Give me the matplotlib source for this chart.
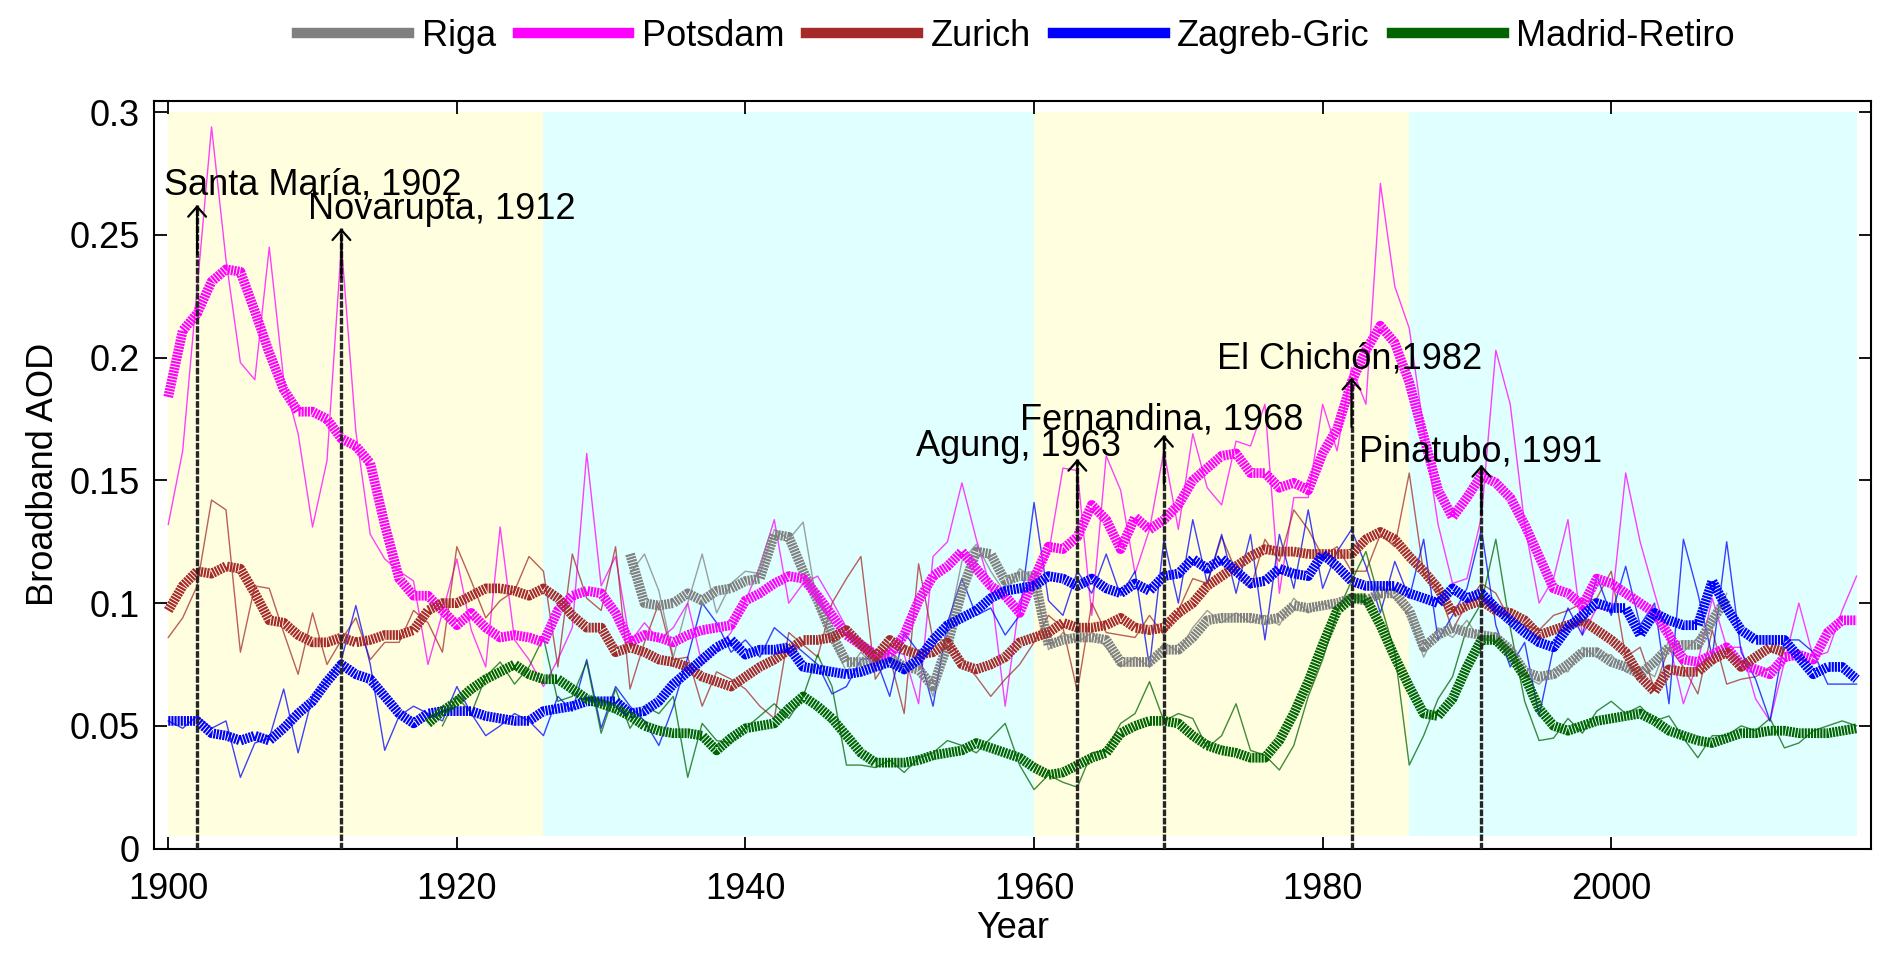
import numpy as np
import matplotlib.pyplot as plt

plt.rcParams['font.family'] = ['Liberation Sans', 'DejaVu Sans']

# -----------------------------
# DATA
# -----------------------------

potsdam_start = 1900
potsdam_annual = [
    0.132, 0.162, 0.228, 0.294, 0.240, 0.198, 0.191, 0.245, 0.191, 0.169,
    0.131, 0.158, 0.246, 0.170, 0.128, 0.118, 0.113, 0.109, 0.075, 0.096,
    0.118, 0.089, 0.074, 0.131, 0.085, 0.077, 0.066, 0.077, 0.090, 0.161,
    0.107, 0.119, 0.084, 0.092, 0.085, 0.090, 0.100, 0.075, 0.081, 0.088,
    0.101, 0.115, 0.134, 0.100, 0.108, 0.111, 0.101, 0.090, 0.082, 0.074,
    0.081, 0.079, 0.059, 0.119, 0.125, 0.149, 0.126, 0.106, 0.058, 0.101,
    0.110, 0.120, 0.155, 0.154, 0.095, 0.160, 0.146, 0.112, 0.130, 0.162,
    0.130, 0.169, 0.147, 0.140, 0.166, 0.164, 0.181, 0.104, 0.143, 0.143,
    0.181, 0.162, 0.196, 0.181, 0.271, 0.229, 0.212, 0.171, 0.132, 0.108,
    0.110, 0.135, 0.203, 0.181, 0.132, 0.100, 0.110, 0.134, 0.087, 0.098,
    0.097, 0.153, 0.125, 0.104, 0.084, 0.059, 0.076, 0.102, 0.082, 0.082,
    0.061, 0.052, 0.076, 0.100, 0.078, 0.080, 0.097, 0.111]
potsdam_smooth = [
    0.184, 0.211, 0.218, 0.231, 0.236, 0.235, 0.219, 0.202, 0.187, 0.178,
    0.178, 0.175, 0.167, 0.164, 0.157, 0.132, 0.110, 0.103, 0.103, 0.097,
    0.091, 0.096, 0.090, 0.086, 0.087, 0.086, 0.084, 0.097, 0.103, 0.105,
    0.104, 0.096, 0.084, 0.087, 0.086, 0.084, 0.087, 0.089, 0.090, 0.091,
    0.101, 0.104, 0.108, 0.111, 0.110, 0.103, 0.095, 0.087, 0.083, 0.079,
    0.079, 0.087, 0.101, 0.111, 0.115, 0.121, 0.114, 0.107, 0.103, 0.096,
    0.110, 0.123, 0.122, 0.127, 0.140, 0.134, 0.122, 0.135, 0.130, 0.134,
    0.140, 0.150, 0.155, 0.160, 0.161, 0.153, 0.153, 0.147, 0.149, 0.146,
    0.161, 0.171, 0.190, 0.203, 0.213, 0.206, 0.190, 0.168, 0.146, 0.135,
    0.143, 0.152, 0.149, 0.143, 0.132, 0.119, 0.106, 0.104, 0.099, 0.110,
    0.108, 0.104, 0.100, 0.096, 0.087, 0.077, 0.076, 0.079, 0.082, 0.075,
    0.073, 0.071, 0.078, 0.079, 0.077, 0.088, 0.093, 0.093]

zurich_start = 1900
zurich_annual = [
    0.086, 0.094, 0.107, 0.142, 0.138, 0.080, 0.107, 0.106, 0.088, 0.071,
    0.096, 0.075, 0.085, 0.094, 0.077, 0.084, 0.084, 0.097, 0.092, 0.080,
    0.123, 0.109, 0.094, 0.101, 0.105, 0.119, 0.113, 0.074, 0.120, 0.102,
    0.097, 0.123, 0.065, 0.084, 0.100, 0.077, 0.078, 0.058, 0.072, 0.069,
    0.065, 0.058, 0.053, 0.088, 0.083, 0.078, 0.100, 0.110, 0.119, 0.069,
    0.078, 0.055, 0.116, 0.085, 0.085, 0.077, 0.070, 0.062, 0.069, 0.075,
    0.084, 0.095, 0.090, 0.064, 0.100, 0.088, 0.087, 0.086, 0.095, 0.087,
    0.097, 0.110, 0.108, 0.127, 0.113, 0.106, 0.126, 0.117, 0.138, 0.130,
    0.119, 0.123, 0.113, 0.113, 0.128, 0.123, 0.153, 0.112, 0.106, 0.089,
    0.100, 0.108, 0.104, 0.093, 0.091, 0.089, 0.095, 0.097, 0.100, 0.102,
    0.113, 0.078, 0.082, 0.065, 0.082, 0.074, 0.063, 0.089, 0.067, 0.069,
    0.070, 0.074]
zurich_smooth = [
    0.097, 0.107, 0.113, 0.112, 0.115, 0.114, 0.104, 0.093, 0.092, 0.087,
    0.084, 0.084, 0.086, 0.084, 0.085, 0.087, 0.087, 0.089, 0.097, 0.100,
    0.100, 0.103, 0.106, 0.106, 0.105, 0.103, 0.106, 0.102, 0.095, 0.090,
    0.090, 0.080, 0.082, 0.080, 0.077, 0.076, 0.074, 0.070, 0.068, 0.066,
    0.070, 0.074, 0.077, 0.081, 0.085, 0.085, 0.086, 0.089, 0.083, 0.078,
    0.085, 0.081, 0.079, 0.080, 0.084, 0.075, 0.073, 0.075, 0.078, 0.084,
    0.086, 0.088, 0.092, 0.090, 0.090, 0.091, 0.094, 0.090, 0.089, 0.090,
    0.096, 0.100, 0.107, 0.111, 0.115, 0.119, 0.122, 0.121, 0.121, 0.120,
    0.120, 0.120, 0.120, 0.126, 0.129, 0.126, 0.119, 0.113, 0.106, 0.096,
    0.099, 0.101, 0.097, 0.096, 0.093, 0.087, 0.089, 0.091, 0.093, 0.089,
    0.085, 0.080, 0.070, 0.064, 0.073, 0.072, 0.072, 0.077, 0.080, 0.074,
    0.078, 0.082, 0.080]

zagreb_start = 1900
zagreb_annual = [
    0.052, 0.049, 0.054, 0.049, 0.052, 0.029, 0.043, 0.045, 0.065, 0.039,
    0.062, 0.068, 0.077, 0.099, 0.075, 0.040, 0.054, 0.058, 0.055, 0.052,
    0.066, 0.055, 0.046, 0.050, 0.055, 0.052, 0.046, 0.062, 0.056, 0.077,
    0.049, 0.066, 0.058, 0.052, 0.042, 0.058, 0.078, 0.100, 0.092, 0.080,
    0.085, 0.078, 0.090, 0.085, 0.080, 0.075, 0.063, 0.066, 0.077, 0.078,
    0.062, 0.088, 0.080, 0.058, 0.092, 0.110, 0.095, 0.098, 0.087, 0.095,
    0.141, 0.101, 0.095, 0.113, 0.104, 0.120, 0.103, 0.113, 0.074, 0.126,
    0.100, 0.134, 0.108, 0.128, 0.104, 0.128, 0.085, 0.128, 0.106, 0.138,
    0.106, 0.121, 0.130, 0.115, 0.096, 0.117, 0.102, 0.126, 0.085, 0.095,
    0.106, 0.130, 0.091, 0.074, 0.084, 0.054, 0.082, 0.098, 0.087, 0.111,
    0.095, 0.115, 0.091, 0.100, 0.059, 0.126, 0.104, 0.078, 0.125, 0.080,
    0.069, 0.052, 0.085, 0.085, 0.080, 0.067, 0.067, 0.067]
zagreb_smooth = [
    0.052, 0.052, 0.052, 0.047, 0.046, 0.044, 0.046, 0.044, 0.049, 0.055,
    0.060, 0.068, 0.075, 0.071, 0.069, 0.062, 0.055, 0.051, 0.055, 0.056,
    0.056, 0.056, 0.054, 0.053, 0.052, 0.052, 0.056, 0.057, 0.058, 0.060,
    0.060, 0.060, 0.055, 0.056, 0.060, 0.067, 0.072, 0.077, 0.082, 0.085,
    0.079, 0.081, 0.081, 0.082, 0.074, 0.073, 0.072, 0.071, 0.072, 0.074,
    0.076, 0.073, 0.077, 0.085, 0.091, 0.094, 0.097, 0.102, 0.105, 0.106,
    0.107, 0.111, 0.110, 0.107, 0.110, 0.106, 0.104, 0.108, 0.105, 0.111,
    0.112, 0.118, 0.114, 0.118, 0.113, 0.108, 0.109, 0.114, 0.112, 0.111,
    0.120, 0.115, 0.109, 0.107, 0.107, 0.107, 0.104, 0.102, 0.100, 0.106,
    0.102, 0.104, 0.098, 0.093, 0.088, 0.084, 0.082, 0.090, 0.095, 0.100,
    0.098, 0.098, 0.087, 0.096, 0.093, 0.091, 0.091, 0.109, 0.098, 0.089,
    0.085, 0.085, 0.085, 0.078, 0.071, 0.074, 0.074, 0.069]

riga_start = 1932
riga_annual = [
    0.112, 0.120, 0.105, 0.078, 0.100, 0.120, 0.096, 0.108,
    0.113, 0.112, 0.130, 0.126, 0.133, 0.098, 0.085, 0.072, 0.080, 0.074,
    0.083, 0.071, 0.078, 0.062, 0.088, 0.117, 0.124, 0.113, 0.104, 0.114,
    0.110, 0.081, 0.088, 0.084, 0.088, 0.082, 0.074, 0.078, 0.074, 0.084,
    0.080, 0.090, 0.097, 0.092, 0.096, 0.092, 0.095, 0.091, 0.102, 0.096,
    0.100, 0.097, 0.104, 0.099, 0.107, 0.102, 0.095, 0.078, 0.090, 0.086,
    0.093, 0.084, 0.088, 0.078, 0.070, 0.067, 0.073, 0.072, 0.082, 0.078,
    0.079, 0.072, 0.074, 0.070, 0.085, 0.080, 0.086, 0.090, 0.104]
riga_smooth = [
    0.120, 0.100, 0.099, 0.100, 0.104, 0.101, 0.105, 0.106,
    0.109, 0.110, 0.128, 0.127, 0.113, 0.101, 0.087, 0.076, 0.076, 0.077,
    0.078, 0.074, 0.073, 0.066, 0.083, 0.105, 0.121, 0.120, 0.109, 0.111,
    0.111, 0.083, 0.085, 0.086, 0.086, 0.085, 0.076, 0.076, 0.076, 0.081,
    0.081, 0.086, 0.093, 0.094, 0.094, 0.094, 0.093, 0.094, 0.099, 0.098,
    0.099, 0.100, 0.102, 0.101, 0.104, 0.104, 0.097, 0.082, 0.087, 0.090,
    0.088, 0.087, 0.086, 0.081, 0.072, 0.070, 0.071, 0.075, 0.080, 0.080,
    0.076, 0.074, 0.071, 0.076, 0.082, 0.083, 0.083, 0.093, 0.102]

madrid_annual_start = 1919
madrid_annual = [
    0.050,
    0.062, 0.055, 0.070, 0.076, 0.067, 0.074, 0.086, 0.060, 0.062, 0.076,
    0.047, 0.065, 0.049, 0.058, 0.055, 0.062, 0.029, 0.051, 0.044, 0.043,
    0.049, 0.054, 0.059, 0.053, 0.062, 0.079, 0.066, 0.034, 0.034, 0.033,
    0.036, 0.031, 0.037, 0.039, 0.044, 0.042, 0.039, 0.045, 0.051, 0.034,
    0.024, 0.030, 0.027, 0.025, 0.039, 0.040, 0.051, 0.055, 0.068, 0.052,
    0.055, 0.053, 0.041, 0.046, 0.059, 0.040, 0.038, 0.032, 0.042, 0.062,
    0.077, 0.096, 0.109, 0.121, 0.100, 0.080, 0.034, 0.046, 0.061, 0.070,
    0.090, 0.100, 0.126, 0.090, 0.060, 0.044, 0.045, 0.053, 0.047, 0.056,
    0.060, 0.055, 0.058, 0.052, 0.054, 0.045, 0.037, 0.046, 0.046, 0.050,
    0.048, 0.053, 0.041, 0.043, 0.048, 0.050, 0.052, 0.050]
madrid_smooth_start = 1918
madrid_smooth = [
    0.051, 0.056,
    0.060, 0.065, 0.069, 0.072, 0.075, 0.071, 0.069, 0.069, 0.065, 0.061,
    0.059, 0.057, 0.054, 0.050, 0.048, 0.047, 0.047, 0.046, 0.040, 0.045,
    0.049, 0.050, 0.051, 0.057, 0.062, 0.058, 0.053, 0.046, 0.039, 0.035,
    0.035, 0.035, 0.036, 0.038, 0.039, 0.040, 0.043, 0.041, 0.039, 0.037,
    0.033, 0.030, 0.031, 0.034, 0.037, 0.039, 0.047, 0.050, 0.052, 0.052,
    0.051, 0.046, 0.042, 0.040, 0.039, 0.037, 0.037, 0.044, 0.055, 0.068,
    0.083, 0.097, 0.102, 0.102, 0.091, 0.078, 0.066, 0.055, 0.054, 0.061,
    0.074, 0.085, 0.085, 0.079, 0.070, 0.057, 0.050, 0.048, 0.050, 0.052,
    0.053, 0.054, 0.055, 0.052, 0.048, 0.046, 0.044, 0.043, 0.045, 0.047,
    0.047, 0.048, 0.048, 0.047, 0.047, 0.047, 0.048, 0.049]

# background periods (start, end, colour)
periods = [(1900, 1926, '#FFFFE0'), (1926, 1960, '#E0FFFF'),
           (1960, 1986, '#FFFFE0'), (1986, 2017, '#E0FFFF')]

# volcano: (label, marker year, arrow tip, text x, text baseline)
volcanoes = [
    ('Santa María, 1902', 1902, 0.2622, 1899.7, 0.2663),
    ('Novarupta, 1912', 1912, 0.2527, 1909.7, 0.2564),
    ('Agung, 1963', 1963, 0.1587, 1951.8, 0.1601),
    ('Fernandina, 1968', 1969, 0.1685, 1959.0, 0.1709),
    ('El Chichón,1982', 1982, 0.1918, 1972.7, 0.1956),
    ('Pinatubo, 1991', 1991, 0.1563, 1982.5, 0.1578),
]

# -----------------------------
# PLOT
# -----------------------------

FS = 26
fig = plt.figure(figsize=(18.92, 9.6), dpi=100)
ax = fig.add_axes([0.0813, 0.1161, 0.9076, 0.7790])

for x0, x1, c in periods:
    ax.fill_between([x0, x1], 0.005, 0.3, color=c, lw=0, zorder=0)

stations = [
    ('Riga', '#808080', riga_start, riga_annual, riga_start, riga_smooth),
    ('Potsdam', '#FF00FF', potsdam_start, potsdam_annual, potsdam_start, potsdam_smooth),
    ('Zurich', '#A52A2A', zurich_start, zurich_annual, zurich_start, zurich_smooth),
    ('Zagreb-Gric', '#0000FF', zagreb_start, zagreb_annual, zagreb_start, zagreb_smooth),
    ('Madrid-Retiro', '#006400', madrid_annual_start, madrid_annual,
     madrid_smooth_start, madrid_smooth),
]

# thin annual lines first
for name, col, s0, ann, s1, sm in stations:
    yrs = np.arange(s0, s0 + len(ann))
    ax.plot(yrs, ann, color=col, lw=1.0, alpha=0.75, zorder=2)

# thick smoothed lines (striped look)
handles = []
for name, col, s0, ann, s1, sm in stations:
    yrs = np.arange(s1, s1 + len(sm))
    ax.plot(yrs, sm, color=col, lw=7, ls=(0, (0.22, 0.1)),
            dash_capstyle='butt', solid_joinstyle='miter', zorder=3)
    h, = ax.plot([], [], color=col, lw=7.5, label=name)
    handles.append(h)

# volcano markers
for name, yr, tip, tx, ty in volcanoes:
    ax.plot([yr, yr], [0, tip], color='#262626', lw=2.4,
            ls=(0, (2.0, 0.5)), zorder=4)
    ax.annotate('', xy=(yr, tip), xytext=(yr, tip - 0.02),
                arrowprops=dict(arrowstyle='->,head_length=0.36,head_width=0.32',
                                color='black', lw=1.6, mutation_scale=20,
                                shrinkA=0, shrinkB=0), zorder=5)
    ax.text(tx, ty, name, fontsize=FS, ha='left', va='baseline', zorder=6)

ax.set_xlim(1899, 2018)
ax.set_ylim(0, 0.3047)
ax.set_xticks([1900, 1920, 1940, 1960, 1980, 2000])
ax.set_yticks([0, 0.05, 0.1, 0.15, 0.2, 0.25, 0.3])
ax.set_yticklabels(['0', '0.05', '0.1', '0.15', '0.2', '0.25', '0.3'])
ax.tick_params(direction='in', length=9, width=1.3, top=True, right=True,
               labelsize=FS)
ax.tick_params(axis='y', pad=10)
ax.tick_params(axis='x', pad=17)
for sp in ax.spines.values():
    sp.set_linewidth(1.5)

ax.set_xlabel('Year', fontsize=FS, labelpad=3)
ax.set_ylabel('Broadband AOD', fontsize=FS, labelpad=6)

fig.legend(handles=handles, loc='center', bbox_to_anchor=(0.537, 0.9625),
           ncol=5, frameon=False, fontsize=FS, handlelength=3.1,
           handletextpad=0.35, columnspacing=0.6)

fig.savefig('out.png', dpi=100)
